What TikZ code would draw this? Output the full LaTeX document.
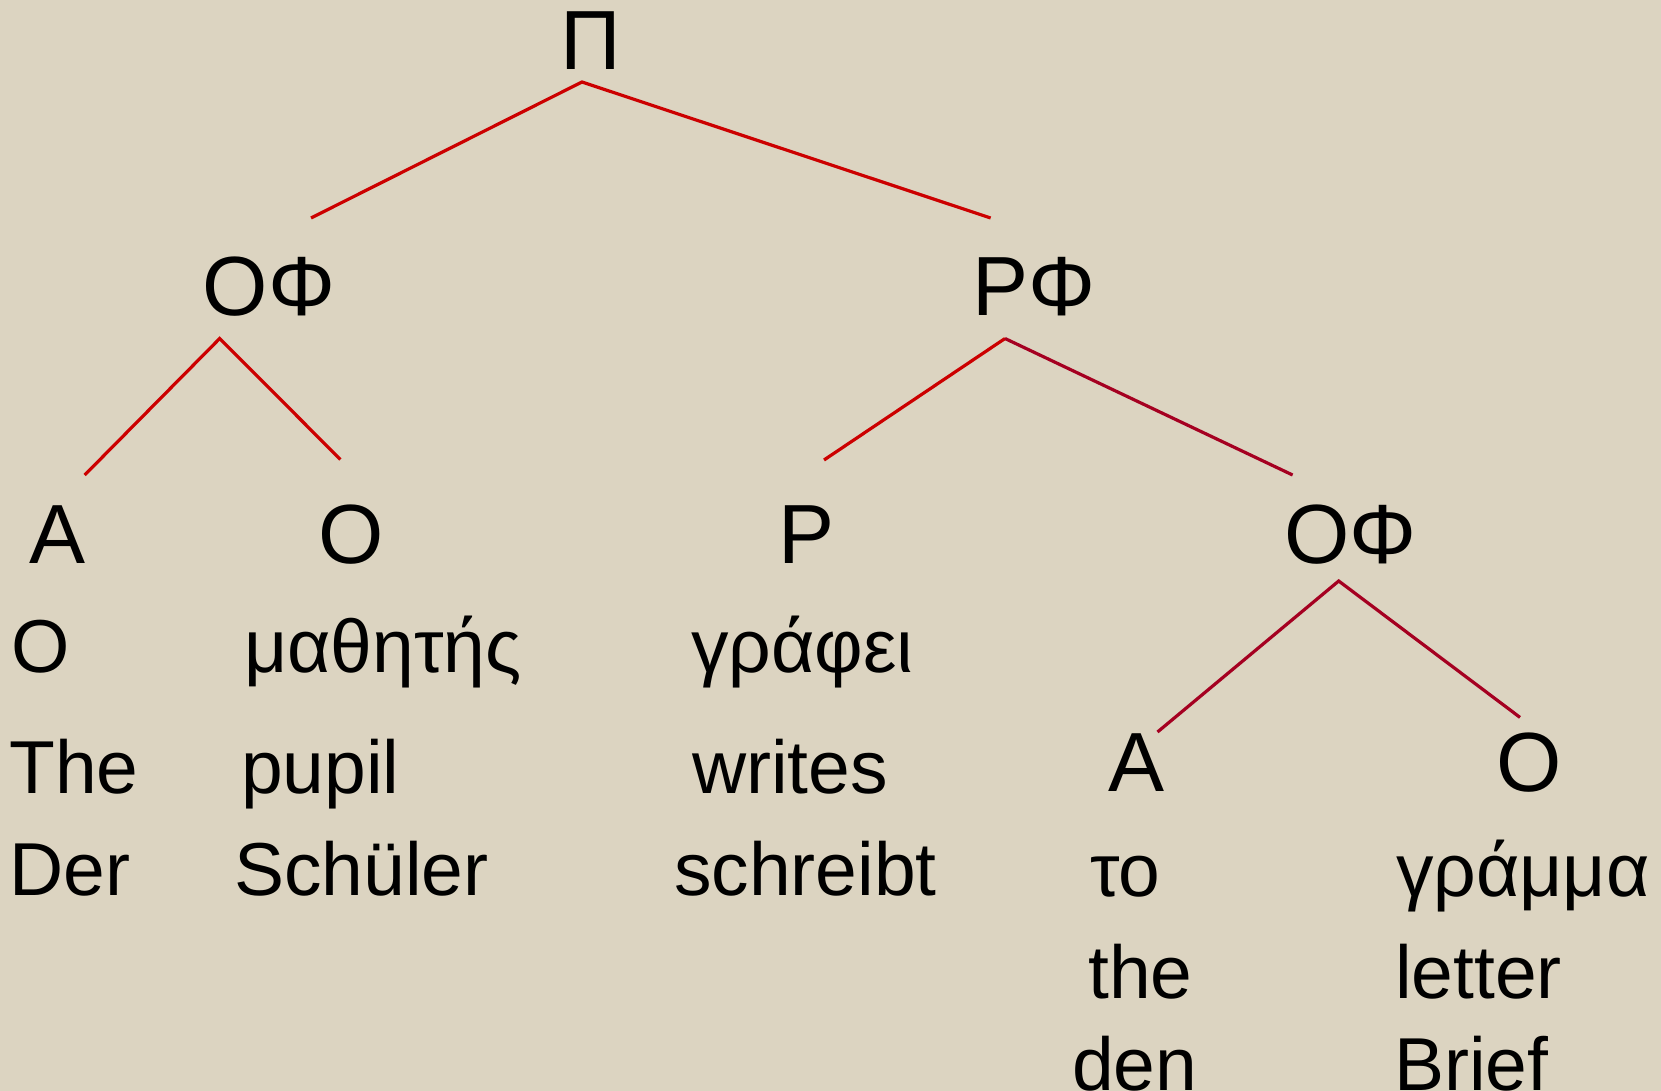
\documentclass[tikz,border=0pt]{standalone}
\usepackage{fontspec}
\setmainfont{Liberation Sans}
\definecolor{bgc}{RGB}{220,212,193}
\definecolor{redA}{RGB}{204,0,0}
\definecolor{redB}{RGB}{165,0,33}
\begin{document}
\begin{tikzpicture}[x=1pt,y=-1pt,
  lab/.style={inner sep=0pt,anchor=base,font=\fontsize{84}{84}\selectfont},
  word/.style={inner sep=0pt,anchor=base west,font=\fontsize{75}{75}\selectfont},
  edgeA/.style={draw=redA,line width=3.2pt},
  edgeB/.style={draw=redB,line width=3.2pt}]
\fill[bgc] (0,0) rectangle (1661,1091);
\useasboundingbox (0,0) rectangle (1661,1091);
% labels
\node[lab] (pi) at (590.5,70) {Π};
\node[lab] (ofL) at (269,315) {ΟΦ};
\node[lab] (rf) at (1034,315) {ΡΦ};
\node[lab] (aL) at (58,563) {Α};
\node[lab] (oL) at (351,563) {Ο};
\node[lab] (r) at (807,563) {Ρ};
\node[lab] (ofR) at (1350.5,563) {ΟΦ};
\node[lab] (aR) at (1136.5,791) {Α};
\node[lab] (oR) at (1529.5,791) {Ο};
% words
\node[word] (w1a) at (11,672) {Ο};
\node[word] (w1b) at (9,793) {The};
\node[word] (w1c) at (9,895) {Der};
\node[word] (w2a) at (244,672) {μαθητής};
\node[word] (w2b) at (241,793) {pupil};
\node[word] (w2c) at (234,895) {Schüler};
\node[word] (w3a) at (691,672) {γράφει};
\node[word] (w3b) at (692,793) {writes};
\node[word] (w3c) at (674,895) {schreibt};
\node[word] (w4a) at (1090,896) {το};
\node[word] (w4b) at (1088,998) {the};
\node[word] (w4c) at (1072,1090) {den};
\node[word] (w5a) at (1396,896) {γράμμα};
\node[word] (w5b) at (1395,998) {letter};
\node[word] (w5c) at (1394,1090) {Brief};
% connector ends
\coordinate (piB) at (582,82);
\coordinate (ofLT) at (311,218);
\coordinate (rfT) at (990.6,218);
\coordinate (ofLB) at (219.7,338.5);
\coordinate (aLT) at (84.7,475);
\coordinate (oLT) at (340.4,459.5);
\coordinate (rfB) at (1005,338.5);
\coordinate (rT) at (824,460);
\coordinate (ofRT) at (1292.6,475);
\coordinate (ofRB) at (1338.7,581);
\coordinate (aRT) at (1157.5,732);
\coordinate (oRT) at (1520,717.4);
\draw[edgeA] (ofLT) -- (piB) -- (rfT);
\draw[edgeA] (aLT) -- (ofLB) -- (oLT);
\draw[edgeA] (rT) -- (rfB);
\draw[edgeB] (rfB) -- (ofRT);
\draw[edgeB] (aRT) -- (ofRB) -- (oRT);
\end{tikzpicture}
\end{document}
